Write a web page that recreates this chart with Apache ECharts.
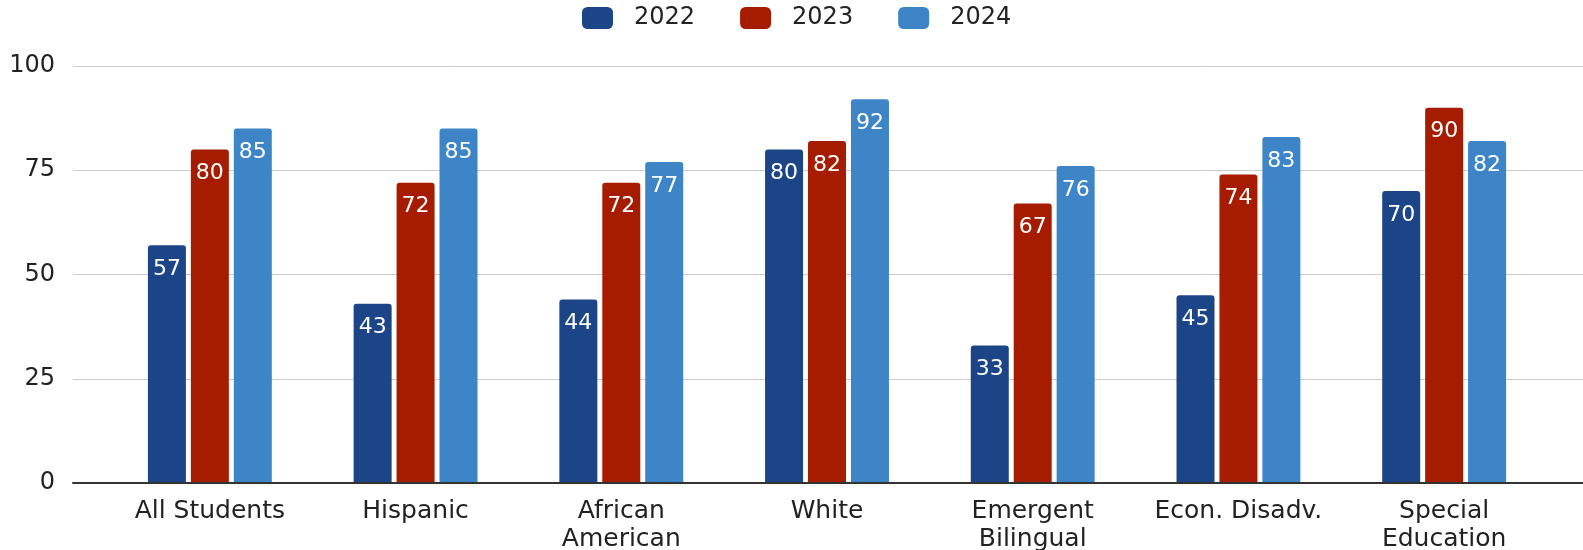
<!DOCTYPE html>
<html>
<head>
<meta charset="utf-8">
<script src="https://cdn.jsdelivr.net/npm/echarts@6/dist/echarts.min.js"></script>
<style>
  html, body { margin: 0; padding: 0; background: #fff; }
  #chart { width: 1583px; height: 550px; }
</style>
</head>
<body>
<div id="chart"></div>
<script>
// Student groups along the x axis
const categories = ['All Students', 'Hispanic', 'African\nAmerican', 'White', 'Emergent\nBilingual', 'Econ. Disadv.', 'Special\nEducation'];

// Percentages per year
const values2022 = [57, 43, 44, 80, 33, 45, 70];
const values2023 = [80, 72, 72, 82, 67, 74, 90];
const values2024 = [85, 85, 77, 92, 76, 83, 82];

// Y axis ticks
const yTicks = [0, 25, 50, 75, 100];

const seriesNames = ['2022', '2023', '2024'];
const seriesColors = ['#1c4587', '#a61c00', '#3d85c6'];
const seriesValues = [values2022, values2023, values2024];

const FONT = '"DejaVu Sans", "Liberation Sans", Arial, sans-serif';

const chart = echarts.init(document.getElementById('chart'));

const series = seriesNames.map((name, i) => ({
  name: name,
  type: 'bar',
  xAxisIndex: 1,
  yAxisIndex: 1,
  data: seriesValues[i],
  barWidth: 38,
  barGap: '13%',
  itemStyle: {
    color: seriesColors[i],
    borderRadius: [3, 3, 0, 0]
  },
  label: {
    show: true,
    position: 'insideTop',
    distance: 13,
    color: '#ffffff',
    fontFamily: FONT,
    fontSize: 22
  }
}));

chart.setOption({
  animation: false,
  textStyle: { fontFamily: FONT },
  legend: {
    top: 1,
    left: 577,
    itemWidth: 31,
    itemHeight: 22,
    itemGap: 45,
    icon: 'roundRect',
    data: seriesNames,
    textStyle: {
      fontFamily: FONT,
      fontSize: 24,
      color: '#222',
      padding: [0, 0, 0, 16]
    }
  },
  // grid 0 carries the value axis and gridlines across the full width,
  // grid 1 holds the bars and the category labels
  grid: [
    { left: 73, right: 0, top: 66, bottom: 67, containLabel: false, outerBoundsMode: 'none' },
    { left: 107, right: 36, top: 66, bottom: 67, containLabel: false, outerBoundsMode: 'none' }
  ],
  xAxis: [
    {
      type: 'category',
      gridIndex: 0,
      data: [''],
      axisTick: { show: false },
      axisLabel: { show: false },
      axisLine: { show: true, lineStyle: { color: '#333', width: 2 } },
      z: 5
    },
    {
      type: 'category',
      gridIndex: 1,
      data: categories,
      axisTick: { show: false },
      axisLine: { show: false },
      axisLabel: {
        color: '#222',
        fontFamily: FONT,
        fontSize: 25,
        lineHeight: 28,
        margin: 14,
        interval: 0
      }
    }
  ],
  yAxis: [
    {
      type: 'value',
      gridIndex: 0,
      min: yTicks[0],
      max: yTicks[yTicks.length - 1],
      interval: 25,
      axisLine: { show: false },
      axisTick: { show: false },
      axisLabel: {
        color: '#222',
        fontFamily: FONT,
        fontSize: 24,
        margin: 18
      },
      splitLine: { lineStyle: { color: '#cccccc', width: 1 } }
    },
    {
      type: 'value',
      gridIndex: 1,
      min: yTicks[0],
      max: yTicks[yTicks.length - 1],
      interval: 25,
      show: false,
      splitLine: { show: false }
    }
  ],
  series: series
});
</script>
</body>
</html>
